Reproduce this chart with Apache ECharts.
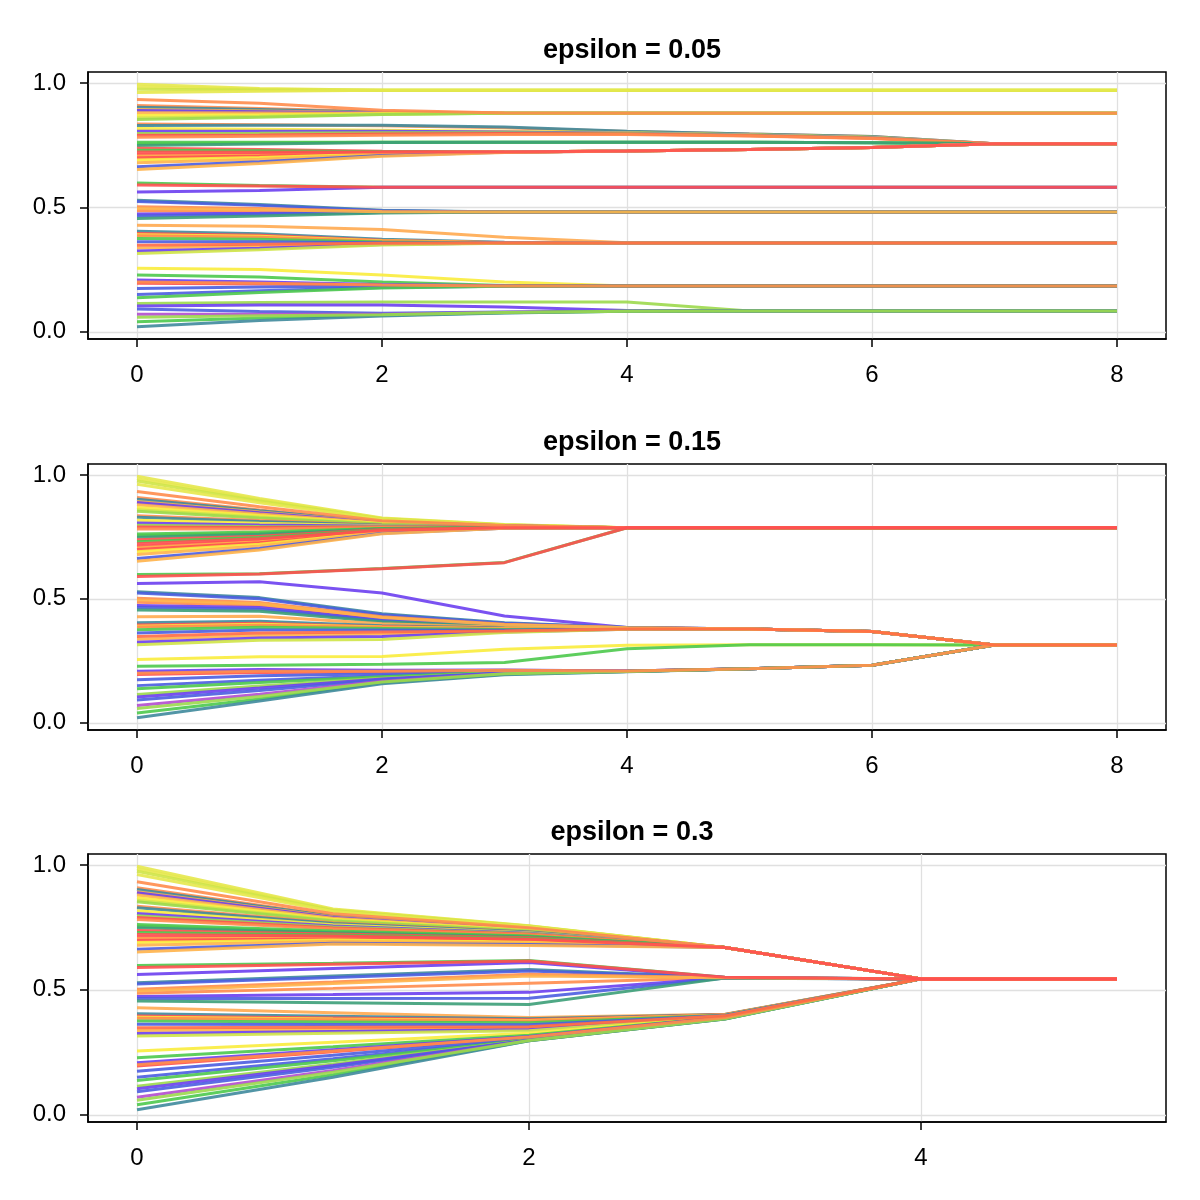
<!DOCTYPE html>
<html>
<head>
<meta charset="utf-8">
<script src="https://cdn.jsdelivr.net/npm/echarts@6/dist/echarts.min.js"></script>
<style>html,body{margin:0;padding:0;background:#fff}#c{width:1200px;height:1200px}</style>
</head>
<body>
<div id="c"></div>
<script>
// Panel titles
const titles = ['epsilon = 0.05', 'epsilon = 0.15', 'epsilon = 0.3'];
// Tick values
const xTicksA = [0, 2, 4, 6, 8];
const xTicksB = [0, 2, 4];
const yTicks = [0, 0.5, 1.0];

// Line colours (one per agent, descending initial opinion)
const lineColors = [
 '#e6e84c','#e6e84c','#cfe447','#e6e84c',
 '#ff8c4c','#ff8c4c','#3f8a9c','#ffb24a','#6b3ff0','#ffb24a','#f9ec3c','#cfe447','#9cd94c',
 '#ff8c4c','#3f8a9c','#f9ec3c','#6b3ff0','#9cd94c','#ff5050','#ff8c4c','#4cc94c','#4cc94c','#3c9f78',
 '#ff5050','#4cc94c','#ff5050','#ff5050','#ffb24a','#ff5050','#f9ec3c','#ffb24a','#4b5de0','#ffb24a',
 '#4cc94c','#ff5050','#6b3ff0',
 '#3f8a9c','#4b5de0','#ff8c4c','#ffb24a','#ff8c4c','#6b3ff0','#4b5de0','#3c9f78',
 '#ffaa50','#3f8a9c','#ff5050','#f9ec3c','#ff8c4c','#4cc94c','#4b5de0','#ff6a45','#ffb24a','#6b3ff0','#cfe447',
 '#f9ec3c','#4cc94c','#6b3ff0','#ff8c4c','#ff5050','#4b5de0','#4b5de0','#4cc94c',
 '#9cd94c','#6b3ff0','#4b5de0','#b24ccf','#9cd94c','#4cc94c','#3f8a9c'
];
// Agents drawn last (on top), by index
const onTop = [67, 58, 39, 4, 51, 34, 25];

// Trajectories, epsilon = 0.05 (t = 0..8)
const traj005 = [
 [0.995,0.978,0.971,0.971,0.971,0.971,0.971,0.971,0.971],
 [0.985,0.975,0.971,0.971,0.971,0.971,0.971,0.971,0.971],
 [0.975,0.972,0.971,0.971,0.971,0.971,0.971,0.971,0.971],
 [0.962,0.967,0.971,0.971,0.971,0.971,0.971,0.971,0.971],
 [0.933,0.918,0.890,0.879,0.878,0.878,0.878,0.878,0.878],
 [0.909,0.897,0.884,0.878,0.878,0.878,0.878,0.878,0.878],
 [0.902,0.893,0.882,0.878,0.878,0.878,0.878,0.878,0.878],
 [0.893,0.887,0.880,0.878,0.878,0.878,0.878,0.878,0.878],
 [0.889,0.884,0.879,0.878,0.878,0.878,0.878,0.878,0.878],
 [0.880,0.879,0.878,0.878,0.878,0.878,0.878,0.878,0.878],
 [0.869,0.872,0.876,0.878,0.878,0.878,0.878,0.878,0.878],
 [0.859,0.866,0.874,0.878,0.878,0.878,0.878,0.878,0.878],
 [0.853,0.862,0.873,0.878,0.878,0.878,0.878,0.878,0.878],
 [0.835,0.832,0.828,0.820,0.805,0.795,0.785,0.756,0.756],
 [0.829,0.830,0.830,0.823,0.806,0.795,0.785,0.756,0.756],
 [0.817,0.814,0.810,0.806,0.800,0.792,0.782,0.756,0.756],
 [0.806,0.806,0.806,0.803,0.798,0.790,0.780,0.756,0.756],
 [0.797,0.798,0.800,0.800,0.797,0.789,0.779,0.756,0.756],
 [0.790,0.791,0.795,0.797,0.795,0.788,0.778,0.756,0.756],
 [0.782,0.786,0.790,0.793,0.793,0.787,0.777,0.756,0.756],
 [0.762,0.762,0.762,0.762,0.762,0.762,0.760,0.756,0.756],
 [0.755,0.759,0.762,0.762,0.762,0.762,0.760,0.756,0.756],
 [0.749,0.755,0.761,0.762,0.762,0.762,0.760,0.756,0.756],
 [0.738,0.733,0.726,0.723,0.727,0.733,0.741,0.756,0.756],
 [0.730,0.728,0.724,0.723,0.727,0.733,0.741,0.756,0.756],
 [0.722,0.721,0.722,0.723,0.727,0.733,0.741,0.756,0.756],
 [0.712,0.715,0.720,0.723,0.727,0.733,0.741,0.756,0.756],
 [0.705,0.709,0.718,0.723,0.727,0.733,0.741,0.756,0.756],
 [0.699,0.706,0.717,0.723,0.727,0.733,0.741,0.756,0.756],
 [0.690,0.700,0.714,0.722,0.727,0.733,0.741,0.756,0.756],
 [0.679,0.693,0.712,0.722,0.727,0.733,0.741,0.756,0.756],
 [0.663,0.683,0.708,0.721,0.727,0.733,0.741,0.756,0.756],
 [0.652,0.676,0.705,0.720,0.727,0.733,0.741,0.756,0.756],
 [0.598,0.588,0.581,0.581,0.581,0.581,0.581,0.581,0.581],
 [0.590,0.586,0.581,0.581,0.581,0.581,0.581,0.581,0.581],
 [0.562,0.568,0.581,0.581,0.581,0.581,0.581,0.581,0.581],
 [0.529,0.512,0.488,0.481,0.481,0.481,0.481,0.481,0.481],
 [0.524,0.508,0.486,0.481,0.481,0.481,0.481,0.481,0.481],
 [0.502,0.495,0.483,0.481,0.481,0.481,0.481,0.481,0.481],
 [0.495,0.490,0.482,0.481,0.481,0.481,0.481,0.481,0.481],
 [0.486,0.484,0.481,0.481,0.481,0.481,0.481,0.481,0.481],
 [0.473,0.476,0.480,0.481,0.481,0.481,0.481,0.481,0.481],
 [0.465,0.472,0.479,0.481,0.481,0.481,0.481,0.481,0.481],
 [0.455,0.465,0.477,0.481,0.481,0.481,0.481,0.481,0.481],
 [0.428,0.424,0.411,0.380,0.358,0.357,0.357,0.357,0.357],
 [0.404,0.394,0.372,0.360,0.357,0.357,0.357,0.357,0.357],
 [0.395,0.388,0.368,0.358,0.357,0.357,0.357,0.357,0.357],
 [0.390,0.384,0.366,0.358,0.357,0.357,0.357,0.357,0.357],
 [0.386,0.380,0.364,0.358,0.357,0.357,0.357,0.357,0.357],
 [0.375,0.372,0.361,0.357,0.357,0.357,0.357,0.357,0.357],
 [0.362,0.362,0.358,0.357,0.357,0.357,0.357,0.357,0.357],
 [0.348,0.352,0.356,0.357,0.357,0.357,0.357,0.357,0.357],
 [0.337,0.345,0.354,0.357,0.357,0.357,0.357,0.357,0.357],
 [0.325,0.336,0.351,0.357,0.357,0.357,0.357,0.357,0.357],
 [0.315,0.330,0.349,0.356,0.357,0.357,0.357,0.357,0.357],
 [0.255,0.250,0.228,0.200,0.184,0.184,0.184,0.184,0.184],
 [0.228,0.220,0.200,0.186,0.184,0.184,0.184,0.184,0.184],
 [0.208,0.200,0.190,0.185,0.184,0.184,0.184,0.184,0.184],
 [0.200,0.195,0.188,0.184,0.184,0.184,0.184,0.184,0.184],
 [0.195,0.192,0.187,0.184,0.184,0.184,0.184,0.184,0.184],
 [0.174,0.180,0.183,0.184,0.184,0.184,0.184,0.184,0.184],
 [0.150,0.165,0.178,0.183,0.184,0.184,0.184,0.184,0.184],
 [0.137,0.158,0.176,0.183,0.184,0.184,0.184,0.184,0.184],
 [0.114,0.118,0.120,0.120,0.120,0.084,0.084,0.084,0.084],
 [0.104,0.108,0.108,0.100,0.086,0.084,0.084,0.084,0.084],
 [0.092,0.082,0.074,0.080,0.084,0.084,0.084,0.084,0.084],
 [0.070,0.070,0.070,0.078,0.084,0.084,0.084,0.084,0.084],
 [0.058,0.064,0.068,0.077,0.083,0.084,0.084,0.084,0.084],
 [0.040,0.055,0.066,0.076,0.083,0.084,0.084,0.084,0.084],
 [0.020,0.045,0.063,0.075,0.083,0.084,0.084,0.084,0.084]
];

// Trajectories, epsilon = 0.15 (t = 0..8)
const traj015 = [
 [0.995,0.905,0.826,0.800,0.787,0.787,0.787,0.787,0.787],
 [0.985,0.900,0.824,0.799,0.787,0.787,0.787,0.787,0.787],
 [0.975,0.895,0.822,0.798,0.787,0.787,0.787,0.787,0.787],
 [0.962,0.888,0.820,0.797,0.787,0.787,0.787,0.787,0.787],
 [0.933,0.872,0.815,0.796,0.787,0.787,0.787,0.787,0.787],
 [0.909,0.858,0.811,0.795,0.787,0.787,0.787,0.787,0.787],
 [0.902,0.855,0.810,0.795,0.787,0.787,0.787,0.787,0.787],
 [0.893,0.850,0.808,0.794,0.787,0.787,0.787,0.787,0.787],
 [0.889,0.847,0.807,0.794,0.787,0.787,0.787,0.787,0.787],
 [0.880,0.842,0.806,0.794,0.787,0.787,0.787,0.787,0.787],
 [0.869,0.836,0.804,0.793,0.787,0.787,0.787,0.787,0.787],
 [0.859,0.830,0.802,0.793,0.787,0.787,0.787,0.787,0.787],
 [0.853,0.826,0.801,0.792,0.787,0.787,0.787,0.787,0.787],
 [0.835,0.816,0.798,0.792,0.787,0.787,0.787,0.787,0.787],
 [0.829,0.812,0.797,0.791,0.787,0.787,0.787,0.787,0.787],
 [0.817,0.805,0.795,0.791,0.787,0.787,0.787,0.787,0.787],
 [0.806,0.798,0.793,0.790,0.787,0.787,0.787,0.787,0.787],
 [0.797,0.792,0.791,0.790,0.787,0.787,0.787,0.787,0.787],
 [0.790,0.788,0.790,0.790,0.787,0.787,0.787,0.787,0.787],
 [0.782,0.782,0.788,0.789,0.787,0.787,0.787,0.787,0.787],
 [0.762,0.770,0.784,0.789,0.787,0.787,0.787,0.787,0.787],
 [0.755,0.765,0.783,0.788,0.787,0.787,0.787,0.787,0.787],
 [0.749,0.761,0.782,0.788,0.787,0.787,0.787,0.787,0.787],
 [0.738,0.753,0.780,0.788,0.787,0.787,0.787,0.787,0.787],
 [0.730,0.748,0.778,0.787,0.787,0.787,0.787,0.787,0.787],
 [0.722,0.742,0.777,0.787,0.787,0.787,0.787,0.787,0.787],
 [0.712,0.735,0.775,0.787,0.787,0.787,0.787,0.787,0.787],
 [0.705,0.730,0.773,0.786,0.787,0.787,0.787,0.787,0.787],
 [0.699,0.726,0.772,0.786,0.787,0.787,0.787,0.787,0.787],
 [0.690,0.720,0.770,0.786,0.787,0.787,0.787,0.787,0.787],
 [0.679,0.713,0.768,0.785,0.787,0.787,0.787,0.787,0.787],
 [0.663,0.703,0.765,0.785,0.787,0.787,0.787,0.787,0.787],
 [0.652,0.697,0.763,0.785,0.787,0.787,0.787,0.787,0.787],
 [0.598,0.601,0.622,0.647,0.787,0.787,0.787,0.787,0.787],
 [0.590,0.600,0.621,0.646,0.787,0.787,0.787,0.787,0.787],
 [0.562,0.569,0.524,0.431,0.384,0.378,0.368,0.314,0.314],
 [0.529,0.505,0.440,0.404,0.384,0.378,0.368,0.314,0.314],
 [0.524,0.500,0.436,0.402,0.384,0.378,0.368,0.314,0.314],
 [0.502,0.485,0.428,0.398,0.383,0.378,0.368,0.314,0.314],
 [0.495,0.480,0.425,0.396,0.383,0.378,0.368,0.314,0.314],
 [0.486,0.474,0.421,0.395,0.383,0.378,0.368,0.314,0.314],
 [0.473,0.465,0.415,0.392,0.382,0.378,0.368,0.314,0.314],
 [0.465,0.458,0.412,0.390,0.382,0.378,0.368,0.314,0.314],
 [0.455,0.450,0.408,0.388,0.382,0.378,0.368,0.314,0.314],
 [0.428,0.430,0.400,0.385,0.381,0.378,0.368,0.314,0.314],
 [0.404,0.410,0.392,0.382,0.381,0.378,0.368,0.314,0.314],
 [0.395,0.402,0.388,0.380,0.380,0.378,0.368,0.314,0.314],
 [0.390,0.398,0.386,0.379,0.380,0.378,0.368,0.314,0.314],
 [0.386,0.394,0.384,0.378,0.380,0.378,0.368,0.314,0.314],
 [0.375,0.385,0.380,0.376,0.379,0.378,0.368,0.314,0.314],
 [0.362,0.374,0.374,0.373,0.379,0.378,0.368,0.314,0.314],
 [0.348,0.362,0.366,0.370,0.378,0.378,0.368,0.314,0.314],
 [0.337,0.352,0.358,0.368,0.378,0.378,0.368,0.314,0.314],
 [0.325,0.342,0.348,0.366,0.377,0.378,0.368,0.314,0.314],
 [0.315,0.333,0.336,0.364,0.377,0.378,0.368,0.314,0.314],
 [0.255,0.266,0.267,0.297,0.313,0.315,0.315,0.314,0.314],
 [0.228,0.232,0.236,0.243,0.299,0.315,0.315,0.314,0.314],
 [0.208,0.215,0.212,0.213,0.209,0.218,0.232,0.314,0.314],
 [0.200,0.208,0.208,0.212,0.209,0.218,0.232,0.314,0.314],
 [0.195,0.203,0.205,0.211,0.209,0.218,0.232,0.314,0.314],
 [0.174,0.190,0.198,0.209,0.209,0.218,0.232,0.314,0.314],
 [0.150,0.172,0.190,0.206,0.208,0.218,0.232,0.314,0.314],
 [0.137,0.163,0.186,0.205,0.208,0.218,0.232,0.314,0.314],
 [0.114,0.148,0.180,0.203,0.208,0.218,0.232,0.314,0.314],
 [0.104,0.140,0.177,0.202,0.208,0.218,0.232,0.314,0.314],
 [0.092,0.130,0.174,0.201,0.207,0.218,0.232,0.314,0.314],
 [0.070,0.115,0.168,0.199,0.207,0.218,0.232,0.314,0.314],
 [0.058,0.106,0.165,0.198,0.207,0.218,0.232,0.314,0.314],
 [0.040,0.096,0.162,0.196,0.207,0.218,0.232,0.314,0.314],
 [0.020,0.088,0.158,0.194,0.206,0.218,0.232,0.314,0.314]
];

// Trajectories, epsilon = 0.3 (t = 0..5)
const traj03 = [
 [0.995,0.824,0.757,0.670,0.544,0.544],
 [0.985,0.821,0.756,0.670,0.544,0.544],
 [0.975,0.818,0.755,0.670,0.544,0.544],
 [0.962,0.814,0.753,0.670,0.544,0.544],
 [0.933,0.805,0.749,0.670,0.544,0.544],
 [0.909,0.797,0.745,0.670,0.544,0.544],
 [0.902,0.795,0.744,0.670,0.544,0.544],
 [0.893,0.792,0.743,0.670,0.544,0.544],
 [0.889,0.790,0.742,0.670,0.544,0.544],
 [0.880,0.787,0.741,0.670,0.544,0.544],
 [0.869,0.783,0.739,0.670,0.544,0.544],
 [0.859,0.779,0.737,0.670,0.544,0.544],
 [0.853,0.776,0.736,0.670,0.544,0.544],
 [0.835,0.769,0.733,0.670,0.544,0.544],
 [0.829,0.766,0.732,0.670,0.544,0.544],
 [0.817,0.761,0.729,0.670,0.544,0.544],
 [0.806,0.756,0.727,0.670,0.544,0.544],
 [0.797,0.752,0.725,0.670,0.544,0.544],
 [0.790,0.748,0.723,0.670,0.544,0.544],
 [0.782,0.745,0.721,0.670,0.544,0.544],
 [0.762,0.736,0.716,0.670,0.544,0.544],
 [0.755,0.732,0.714,0.670,0.544,0.544],
 [0.749,0.729,0.712,0.670,0.544,0.544],
 [0.738,0.724,0.709,0.670,0.544,0.544],
 [0.730,0.720,0.706,0.670,0.544,0.544],
 [0.722,0.716,0.703,0.670,0.544,0.544],
 [0.712,0.711,0.700,0.670,0.544,0.544],
 [0.705,0.707,0.697,0.670,0.544,0.544],
 [0.699,0.704,0.695,0.670,0.544,0.544],
 [0.690,0.700,0.692,0.670,0.544,0.544],
 [0.679,0.694,0.688,0.670,0.544,0.544],
 [0.663,0.687,0.682,0.670,0.544,0.544],
 [0.652,0.684,0.678,0.670,0.544,0.544],
 [0.598,0.607,0.618,0.551,0.544,0.544],
 [0.590,0.603,0.616,0.551,0.544,0.544],
 [0.562,0.586,0.610,0.550,0.544,0.544],
 [0.529,0.556,0.582,0.550,0.544,0.544],
 [0.524,0.550,0.576,0.550,0.544,0.544],
 [0.502,0.532,0.563,0.549,0.544,0.544],
 [0.495,0.526,0.556,0.549,0.544,0.544],
 [0.486,0.506,0.527,0.549,0.544,0.544],
 [0.473,0.481,0.490,0.548,0.544,0.544],
 [0.465,0.465,0.466,0.548,0.544,0.544],
 [0.455,0.448,0.441,0.547,0.544,0.544],
 [0.428,0.408,0.389,0.402,0.544,0.544],
 [0.404,0.394,0.384,0.401,0.544,0.544],
 [0.395,0.387,0.380,0.400,0.544,0.544],
 [0.390,0.383,0.377,0.399,0.544,0.544],
 [0.386,0.380,0.375,0.399,0.544,0.544],
 [0.375,0.371,0.368,0.398,0.544,0.544],
 [0.362,0.361,0.360,0.397,0.544,0.544],
 [0.348,0.350,0.352,0.396,0.544,0.544],
 [0.337,0.342,0.347,0.395,0.544,0.544],
 [0.325,0.333,0.341,0.394,0.544,0.544],
 [0.315,0.326,0.336,0.393,0.544,0.544],
 [0.255,0.290,0.326,0.392,0.544,0.544],
 [0.228,0.272,0.318,0.391,0.544,0.544],
 [0.208,0.260,0.313,0.390,0.544,0.544],
 [0.200,0.255,0.311,0.389,0.544,0.544],
 [0.195,0.252,0.310,0.389,0.544,0.544],
 [0.174,0.238,0.305,0.388,0.544,0.544],
 [0.150,0.224,0.302,0.387,0.544,0.544],
 [0.137,0.216,0.300,0.386,0.544,0.544],
 [0.114,0.203,0.299,0.386,0.544,0.544],
 [0.104,0.197,0.298,0.385,0.544,0.544],
 [0.092,0.190,0.298,0.385,0.544,0.544],
 [0.070,0.177,0.297,0.384,0.544,0.544],
 [0.058,0.170,0.297,0.384,0.544,0.544],
 [0.040,0.160,0.296,0.383,0.544,0.544],
 [0.020,0.150,0.296,0.383,0.544,0.544]
];

const panels = [traj005, traj015, traj03];
const FONT = '"Liberation Sans", Arial, sans-serif';
const gridTops = [72, 464, 854];
const gridHeights = [267, 266, 268];

const chart = echarts.init(document.getElementById('c'), null, {renderer: 'canvas'});

const grids = [], xAxes = [], yAxes = [], series = [], titleOpts = [];
panels.forEach((traj, p) => {
  grids.push({left: 88, right: 34, top: gridTops[p], height: gridHeights[p], show: true,
    borderColor: '#000', borderWidth: 1.5, backgroundColor: '#fff', containLabel: false});
  const xt = p < 2 ? xTicksA : xTicksB;
  const xmax = p < 2 ? 8 : 5;
  xAxes.push({type: 'value', gridIndex: p, min: -0.05 * xmax, max: xmax * 1.05,
    axisLine: {show: true, onZero: false, lineStyle: {color: '#000', width: 1.5}},
    axisTick: {show: true, length: 8, lineStyle: {color: '#000', width: 1.5}, customValues: xt},
    axisLabel: {customValues: xt, color: '#000', fontSize: 24, fontFamily: FONT, margin: 24},
    splitLine: {show: true, lineStyle: {color: '#e0e0e0', width: 1.3}, customValues: xt}
  });
  yAxes.push({type: 'value', gridIndex: p, min: -0.029, max: 1.044,
    axisLine: {show: true, onZero: false, lineStyle: {color: '#000', width: 1.5}},
    axisTick: {show: true, length: 8, lineStyle: {color: '#000', width: 1.5}, customValues: yTicks},
    axisLabel: {customValues: yTicks, color: '#000', fontSize: 24, fontFamily: FONT, margin: 22,
      formatter: v => v.toFixed(1)},
    splitLine: {show: true, lineStyle: {color: '#e0e0e0', width: 1.3}, customValues: yTicks}
  });
  titleOpts.push({text: titles[p], left: 627, textAlign: 'center', top: gridTops[p] - 40,
    textStyle: {fontFamily: FONT, fontWeight: 'bold', fontSize: 27, color: '#000'}});
  const order = [];
  traj.forEach((_, i) => { if (!onTop.includes(i)) order.push(i); });
  onTop.forEach(i => order.push(i));
  order.forEach(i => {
    series.push({type: 'line', xAxisIndex: p, yAxisIndex: p, showSymbol: false, silent: true,
      animation: false, z: 2,
      data: traj[i].map((v, t) => [t, v]),
      lineStyle: {color: lineColors[i], width: 3, opacity: 0.9}});
  });
});

chart.setOption({animation: false, backgroundColor: '#fff', title: titleOpts,
  grid: grids, xAxis: xAxes, yAxis: yAxes, series: series});
</script>
</body>
</html>
